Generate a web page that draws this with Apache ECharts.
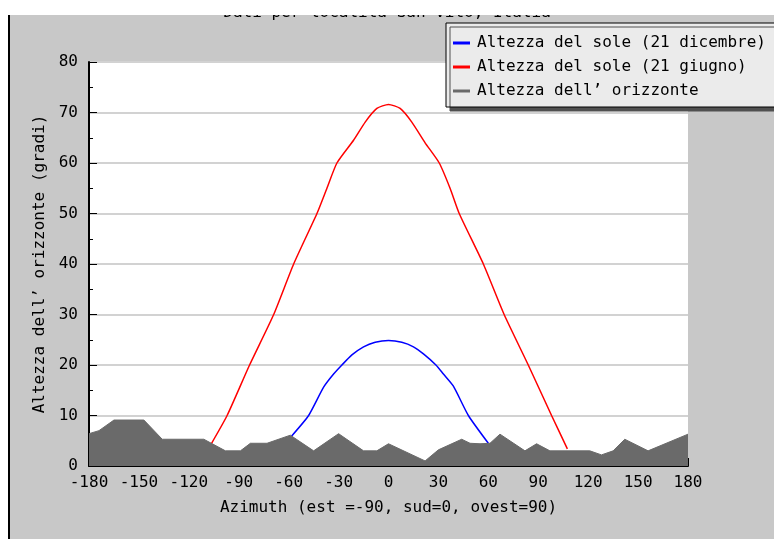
<!DOCTYPE html>
<html>
<head>
<meta charset="utf-8">
<script src="https://cdn.jsdelivr.net/npm/echarts@6/dist/echarts.min.js"></script>
<style>
html,body{margin:0;padding:0;background:#fff;}
#wrap{position:relative;width:774px;height:539px;overflow:hidden;}
#chart{width:774px;height:539px;}
#maskTop{position:absolute;left:0;top:0;width:774px;height:15px;background:#fff;}
#maskLeft{position:absolute;left:0;top:0;width:8px;height:539px;background:#fff;}
#edge{position:absolute;left:8px;top:15px;width:1.5px;height:524px;background:#000;}
</style>
</head>
<body>
<div id="wrap">
<div id="chart"></div>
<div id="maskTop"></div>
<div id="maskLeft"></div>
<div id="edge"></div>
</div>
<script>
// ---- data ----
var titleText = "Dati per località San Vito, Italia";
var seriesNames = ["Altezza del sole (21 dicembre)", "Altezza del sole (21 giugno)", "Altezza dell’ orizzonte"];

var decAz  = [-58.3, -48, -39, -33, -28, -22, -15, -8, 0, 8, 15, 21, 28.5, 33, 39, 48, 60];
var decAlt = [5.9, 10, 15.6, 18.2, 20, 22, 23.6, 24.5, 24.85, 24.5, 23.6, 22.2, 20, 18.2, 15.8, 10, 4.5];

var junAz  = [-106.5, -97, -83.5, -69, -57, -43, -37, -31, -21, -14, -7, 0, 7, 14, 22, 30.5, 37, 42.5, 57, 69.5, 84, 98, 107.5];
var junAlt = [4.4, 10, 20, 30, 40, 50, 55, 60, 64.5, 68.1, 70.8, 71.6, 70.8, 68.1, 64, 60, 55, 50, 40, 30, 20, 10, 3.4];

var horAz  = [-180, -174, -165, -147, -136, -111, -98, -89, -83, -73, -59, -45, -30, -15, -7, 0, 22, 30, 44, 49, 55, 61, 67, 82, 89, 97, 121, 128, 135, 142, 156, 180];
var horAlt = [6.4, 7.0, 9.1, 9.1, 5.3, 5.3, 3.0, 3.0, 4.5, 4.5, 6.1, 3.0, 6.4, 3.0, 3.0, 4.4, 1.0, 3.2, 5.3, 4.5, 4.4, 4.5, 6.3, 3.0, 4.4, 3.0, 3.0, 2.2, 3.0, 5.3, 3.0, 6.3];

var xTicks = [-180, -150, -120, -90, -60, -30, 0, 30, 60, 90, 120, 150, 180];
var yTicks = [0, 10, 20, 30, 40, 50, 60, 70, 80];

var xName = "Azimuth (est =-90, sud=0, ovest=90)";
var yName = "Altezza dell’ orizzonte (gradi)";

function pairs(a, b) { return a.map(function (v, i) { return [v, b[i]]; }); }

var FONT = "DejaVu Sans Mono";
var chart = echarts.init(document.getElementById('chart'), null, {renderer: 'canvas'});

chart.setOption({
  backgroundColor: '#c8c8c8',
  animation: false,
  grid: {
    left: 89, right: 86, top: 62, bottom: 73,
    show: true, backgroundColor: '#ffffff', borderWidth: 0
  },
  legend: {
    orient: 'vertical',
    left: 446, top: 23,
    padding: [12, 24, 8, 7],
    itemGap: 8,
    itemWidth: 17, itemHeight: 3,
    backgroundColor: '#ebebeb',
    borderColor: '#000', borderWidth: 1,
    shadowColor: '#505050', shadowBlur: 0, shadowOffsetX: 4, shadowOffsetY: 4,
    textStyle: {fontFamily: FONT, fontSize: 16, color: '#000', lineHeight: 16, padding: [0, 0, 0, 2]},
    data: [
      {name: seriesNames[0], icon: 'rect'},
      {name: seriesNames[1], icon: 'rect'},
      {name: seriesNames[2], icon: 'rect'}
    ]
  },
  xAxis: {
    type: 'value',
    min: xTicks[0], max: xTicks[xTicks.length - 1], interval: 30,
    name: xName, nameLocation: 'middle', nameGap: 34,
    nameTextStyle: {fontFamily: FONT, fontSize: 16, color: '#000'},
    axisLine: {show: true, onZero: false, lineStyle: {color: '#000', width: 2}},
    axisTick: {show: true, inside: true, length: 8, lineStyle: {color: '#000', width: 1}},
    axisLabel: {fontFamily: FONT, fontSize: 16, color: '#000', margin: 9},
    splitLine: {show: false}
  },
  yAxis: {
    type: 'value',
    min: yTicks[0], max: yTicks[yTicks.length - 1], interval: 10,
    name: yName, nameLocation: 'middle', nameGap: 41,
    nameTextStyle: {fontFamily: FONT, fontSize: 16, color: '#000'},
    axisLine: {show: true, onZero: false, lineStyle: {color: '#000', width: 2}},
    axisTick: {show: true, inside: true, length: 8, lineStyle: {color: '#000', width: 1}},
    minorTick: {show: true, splitNumber: 2, length: 4, lineStyle: {color: '#000', width: 1}},
    axisLabel: {fontFamily: FONT, fontSize: 16, color: '#000', margin: 11},
    splitLine: {show: true, lineStyle: {color: '#d2d2d2', width: 2}}
  },
  series: [
    {
      name: seriesNames[0], type: 'line', data: pairs(decAz, decAlt),
      showSymbol: false, symbol: 'none', z: 3, smooth: 0.2,
      itemStyle: {color: '#0000ff'},
      lineStyle: {color: '#0000ff', width: 1.5}
    },
    {
      name: seriesNames[1], type: 'line', data: pairs(junAz, junAlt),
      showSymbol: false, symbol: 'none', z: 3, smooth: 0.2,
      itemStyle: {color: '#ff0000'},
      lineStyle: {color: '#ff0000', width: 1.5}
    },
    {
      name: seriesNames[2], type: 'line', data: pairs(horAz, horAlt),
      showSymbol: false, symbol: 'none', z: 4,
      itemStyle: {color: '#6a6a6a'},
      lineStyle: {color: '#6a6a6a', width: 1},
      areaStyle: {color: '#6a6a6a', opacity: 1, origin: 'start'}
    }
  ],
  graphic: [
    {type: 'text', style: {text: titleText, x: 387, y: 21, align: 'center', verticalAlign: 'bottom', font: '16px "DejaVu Sans Mono"', fill: '#000'}}
  ]
});
</script>
</body>
</html>
